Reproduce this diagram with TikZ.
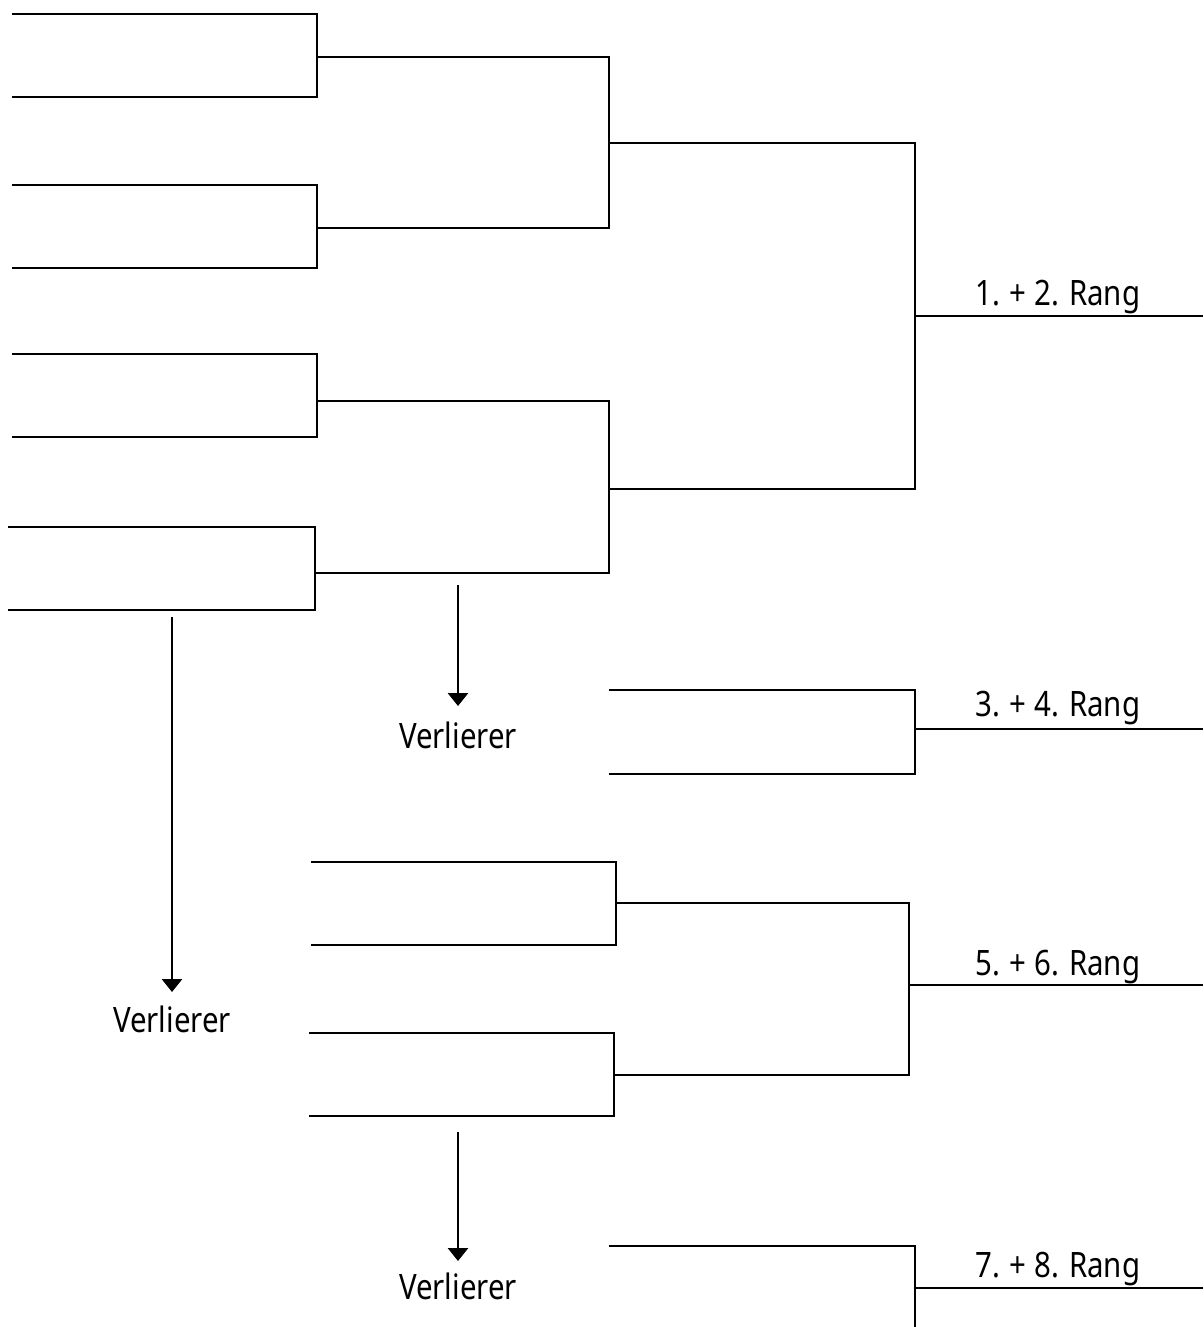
\documentclass[tikz,border=0pt]{standalone}
\usepackage{fontspec}
\setmainfont[FakeStretch=0.84]{Noto Sans}
\usetikzlibrary{arrows.meta}

\begin{document}
\begin{tikzpicture}[
  x=1pt, y=-1pt,
  line width=2.8pt,
  > = {Triangle[length=13pt,width=20pt]},
  rang/.style = {anchor=base, inner sep=0pt, font=\fontsize{35}{42}\selectfont},
  loser/.style = {anchor=base, inner sep=0pt, font=\fontsize{35}{42}\selectfont}
  ]
	\useasboundingbox (0,0) rectangle (1203,1327);

	% first round
	\coordinate (s1) at (12,14);
	\coordinate (s2) at (12,97);
	\coordinate (s3) at (12,185);
	\coordinate (s4) at (12,268);
	\coordinate (s5) at (12,354);
	\coordinate (s6) at (12,437);
	\coordinate (s7) at (8,527);
	\coordinate (s8) at (8,610);

	\coordinate (a) at (317,57);
	\coordinate (b) at (317,228);
	\coordinate (c) at (317,401);
	\coordinate (d) at (315,573);
	\coordinate (e) at (609,143);
	\coordinate (f) at (609,489);
	\coordinate (g) at (915,316);
	\coordinate (g') at (1203,316);

	\draw (s1) -| (a) |- (s2);
	\draw (s3) -| (b) |- (s4);
	\draw (s5) -| (c) |- (s6);
	\draw (s7) -| (d) |- (s8);
	\draw (a) -| (e) |- (b);
	\draw (c) -| (f) |- (d);
	\draw (e) -| (g) |- (f);
	\draw (g) -- (g');
	\node[rang] (r12) at (1058,305) {1.\kern9pt+\kern8pt2. Rang};

	% 3./4. place
	\coordinate (t1) at (609,690);
	\coordinate (t2) at (609,774);
	\coordinate (h) at (915,729);
	\coordinate (h') at (1203,729);
	\draw (t1) -| (h) |- (t2);
	\draw (h) -- (h');
	\node[rang] (r34) at (1058,716) {3.\kern9pt+\kern8pt4. Rang};

	% losers of the first round
	\coordinate (p1) at (311,862);
	\coordinate (p2) at (311,945);
	\coordinate (p3) at (309,1033);
	\coordinate (p4) at (309,1116);
	\coordinate (i) at (616,903);
	\coordinate (j) at (614,1075);
	\coordinate (k) at (909,985);
	\coordinate (k') at (1203,985);
	\draw (p1) -| (i) |- (p2);
	\draw (p3) -| (j) |- (p4);
	\draw (i) -| (k) |- (j);
	\draw (k) -- (k');
	\node[rang] (r56) at (1058,975) {5.\kern9pt+\kern8pt6. Rang};

	% 7./8. place
	\coordinate (u1) at (609,1246);
	\coordinate (l) at (915,1288);
	\coordinate (l') at (1203,1288);
	\coordinate (cut) at (915,1327);
	\draw (u1) -| (l) -- (cut);
	\draw (l) -- (l');
	\node[rang] (r78) at (1058,1277) {7.\kern9pt+\kern8pt8. Rang};

	% arrows
	\node[loser] (v1) at (458,748) {Verlierer};
	\node[loser] (v2) at (172,1032) {Verlierer};
	\node[loser] (v3) at (458,1299) {Verlierer};
	\coordinate (o1) at (458,585);
	\coordinate (o2) at (172,617);
	\coordinate (o3) at (458,1132);
	\draw[->] (o1) -- ([yshift=14pt]v1.north);
	\draw[->] (o2) -- ([yshift=12pt]v2.north);
	\draw[->] (o3) -- ([yshift=10pt]v3.north);

\end{tikzpicture}
\end{document}
